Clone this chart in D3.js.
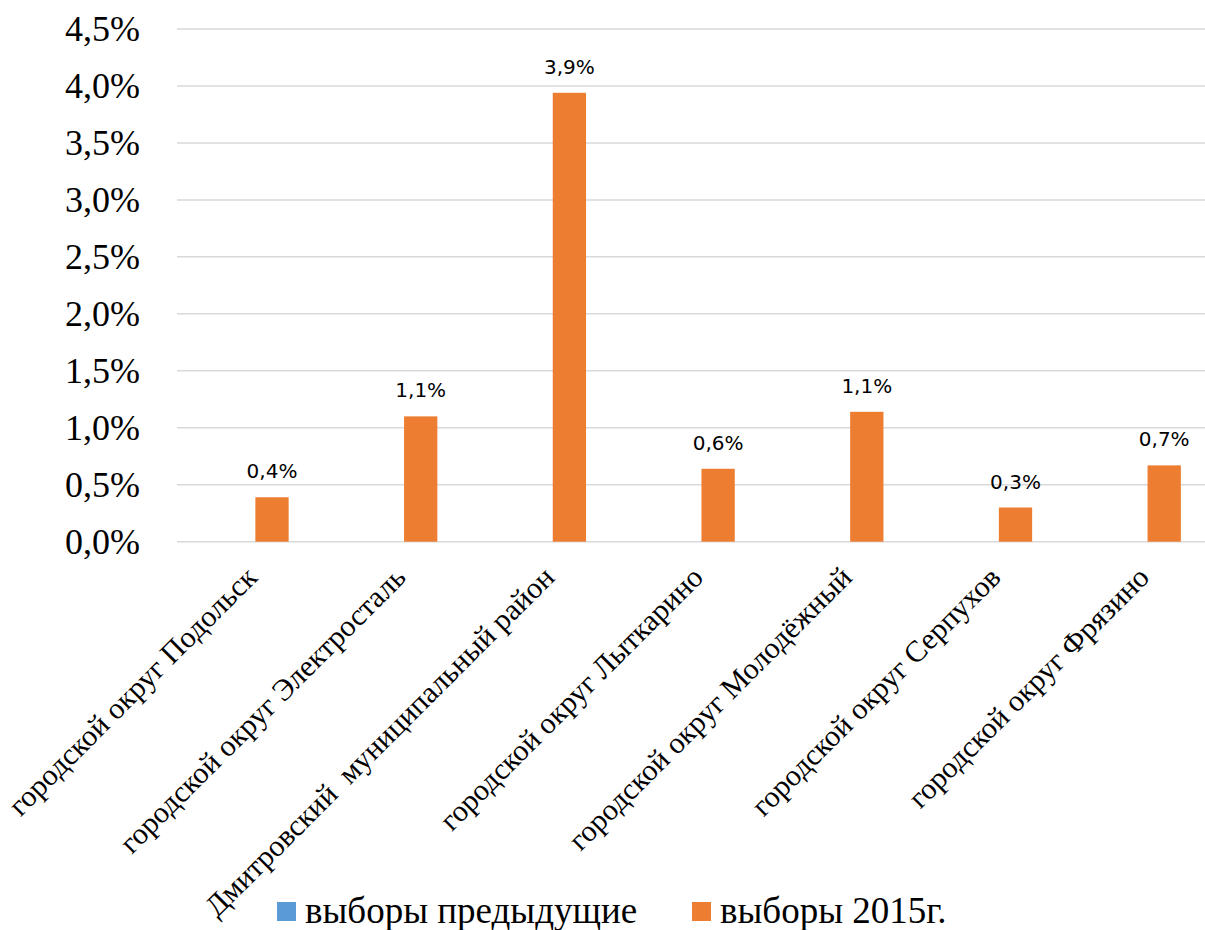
<!DOCTYPE html>
<html>
<head>
<meta charset="utf-8">
<script src="https://cdn.jsdelivr.net/npm/d3@7"></script>
<style>
  html, body { margin: 0; padding: 0; background: #fff; }
  svg { display: block; }
  text { white-space: pre; }
</style>
</head>
<body>
<svg id="chart" width="1205" height="930"></svg>
<script>
const categories = [
  "городской округ Подольск",
  "городской округ Электросталь",
  "Дмитровский  муниципальный район",
  "городской округ Лыткарино",
  "городской округ Молодёжный",
  "городской округ Серпухов",
  "городской округ Фрязино"
];
const seriesNames = ["выборы предыдущие", "выборы 2015г."];
const seriesColors = ["#5B9BD5", "#ED7D31"];
const prevValues = [null, null, null, null, null, null, null];
const values2015 = [0.0039, 0.0110, 0.0394, 0.0064, 0.0114, 0.0030, 0.0067];
const yTicks = [0, 0.005, 0.01, 0.015, 0.02, 0.025, 0.03, 0.035, 0.04, 0.045];

const locale = d3.formatLocale({decimal: ",", thousands: " ", grouping: [3], currency: ["", ""]});
const fmt = locale.format(".1%");

const svg = d3.select("#chart");
const plotL = 177, plotR = 177 + 7 * 148.7, plotT = 29, plotB = 541.7;

const x0 = d3.scaleBand().domain(categories).range([plotL, plotR]).paddingInner(0).paddingOuter(0);
const x1 = d3.scaleBand().domain(seriesNames).range([0, x0.bandwidth()]).paddingInner(0.194).paddingOuter(0.897);
const y = d3.scaleLinear().domain([0, 0.045]).range([plotB, plotT]);

// gridlines
svg.append("g").selectAll("line").data(yTicks).join("line")
  .attr("x1", plotL).attr("x2", plotR)
  .attr("y1", d => y(d)).attr("y2", d => y(d))
  .attr("stroke", "#d9d9d9").attr("stroke-width", 1.5);

// y axis labels
const yAxis = d3.axisLeft(y).tickValues(yTicks).tickFormat(d => fmt(d)).tickSize(0).tickPadding(37);
const ya = svg.append("g").attr("transform", `translate(${plotL},0)`).call(yAxis);
ya.select(".domain").remove();
ya.selectAll("text")
  .attr("font-family", "'Liberation Serif', 'Times New Roman', serif")
  .attr("font-size", 36).attr("fill", "#000");

// bars
const rows = categories.map((c, i) => ({cat: c, vals: [prevValues[i], values2015[i]]}));
const groups = svg.append("g").selectAll("g").data(rows).join("g")
  .attr("transform", d => `translate(${x0(d.cat)},0)`);
groups.selectAll("rect")
  .data(d => d.vals.map((v, j) => ({name: seriesNames[j], v, j})).filter(e => e.v != null))
  .join("rect")
  .attr("x", e => x1(e.name)).attr("width", x1.bandwidth())
  .attr("y", e => y(e.v)).attr("height", e => y(0) - y(e.v))
  .attr("fill", e => seriesColors[e.j]);
groups.selectAll("text.lbl")
  .data(d => d.vals.map((v, j) => ({name: seriesNames[j], v, j})).filter(e => e.v != null))
  .join("text").attr("class", "lbl")
  .attr("x", e => x1(e.name) + x1.bandwidth() / 2)
  .attr("y", e => y(e.v) - 19)
  .attr("text-anchor", "middle")
  .attr("font-family", "'DejaVu Sans', sans-serif")
  .attr("font-size", 20).attr("fill", "#000")
  .text(e => fmt(e.v));

// x axis category labels
const xa = svg.append("g").attr("transform", `translate(0,${plotB})`)
  .call(d3.axisBottom(x0).tickSize(0).tickPadding(0));
xa.select(".domain").remove();
xa.selectAll(".tick text")
  .attr("font-family", "'Liberation Serif', 'Times New Roman', serif")
  .attr("font-size", 30).attr("fill", "#000")
  .attr("text-anchor", "end")
  .attr("dy", "0.35em")
  .attr("transform", "translate(0,30) rotate(-45)")
  .attr("y", 0).attr("x", 0);

// legend
const legX = [277, 692];
const leg = svg.append("g").selectAll("g").data(seriesNames).join("g")
  .attr("transform", (d, i) => `translate(${legX[i]},902)`);
leg.append("rect").attr("width", 19).attr("height", 19).attr("fill", (d, i) => seriesColors[i]);
leg.append("text").attr("x", 28).attr("y", 21)
  .attr("font-family", "'Liberation Serif', 'Times New Roman', serif")
  .attr("font-size", 37).attr("fill", "#000").text(d => d);
</script>
</body>
</html>
